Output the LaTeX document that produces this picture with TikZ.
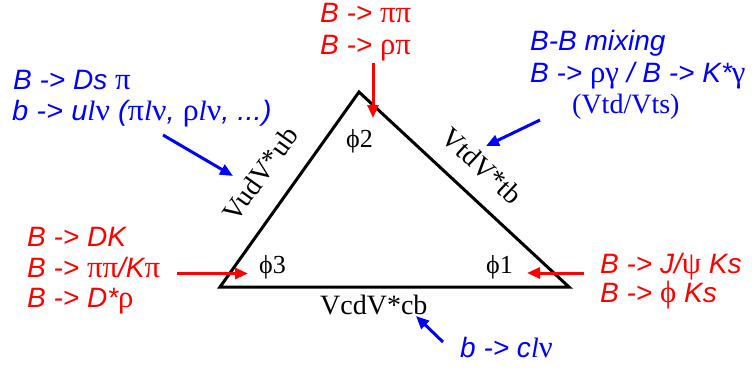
\documentclass[tikz,border=0pt]{standalone}
\usepackage{fontspec}
\usepackage{graphicx}
\setmainfont{Liberation Serif}
\newfontfamily\sansf{Liberation Sans}
\newfontfamily\grf{Liberation Serif}
\usetikzlibrary{arrows.meta}
\definecolor{myred}{RGB}{255,0,0}
\definecolor{myblue}{RGB}{0,0,255}
\newcommand{\gk}[1]{\scalebox{1.1}{\grf\upshape #1}}
\newcommand{\il}{{\rmfamily\itshape l}}
\newcommand{\wtxt}[1]{{\sansf\itshape #1}}
\tikzset{
  lbl/.style={anchor=base west, inner sep=0pt, font=\fontsize{28}{32}\selectfont},
  redt/.style={lbl, text=myred},
  bluet/.style={lbl, text=myblue},
  serift/.style={inner sep=0pt, font=\fontsize{28}{32}\selectfont},
  phit/.style={anchor=base west, inner sep=0pt, font=\fontsize{26}{30}\selectfont},
  tri/.style={line width=3pt, draw=black, line join=miter},
  rarr/.style={draw=myred, line width=3pt, -{Triangle[length=13pt,width=11pt]}},
  barr/.style={draw=myblue, line width=3pt, -{Triangle[length=13pt,width=11pt]}},
}
\begin{document}
\begin{tikzpicture}[x=1pt,y=-1pt]
\useasboundingbox (0,0) rectangle (756,370);
% triangle
\coordinate (T) at (359,92);
\coordinate (L) at (220,287);
\coordinate (R) at (569,287);
\draw[tri] (L) -- (T) -- (R) -- cycle;
% side labels
\node[serift, rotate=54.5] (sideL) at (260,174) {VudV*ub};
\node[serift, rotate=-42.9] (sideR) at (482,166) {VtdV*tb};
\node[serift, anchor=base west] (sideB) at (320,314) {VcdV*cb};
% angles
\node[phit] (phi2) at (346,147) {ϕ2};
\node[phit] (phi3) at (259,273) {ϕ3};
\node[phit] (phi1) at (486,273) {ϕ1};
% top red
\node[redt] (t1) at (320,22) {\wtxt{B -> \gk{ππ}}};
\node[redt] (t2) at (320,54) {\wtxt{B -> \gk{ρπ}}};
% top-left blue
\node[bluet] (tl1) at (13,89) {\wtxt{B -> Ds \gk{π}}};
\node[bluet] (tl2) at (12,120) {\scalebox{1.04}[1]{\wtxt{b -> u\il\gk{ν} (\gk{π}\il\gk{ν}, \gk{ρ}\il\gk{ν}, ...)}}};
% right blue
\node[bluet] (tr1) at (530,50) {\wtxt{B-B mixing}};
\node[bluet] (tr2) at (530,82) {\wtxt{B -> \gk{ργ} / B -> K*\gk{γ}}};
\node[serift, text=myblue, anchor=base west] (tr3) at (572,113) {(Vtd/Vts)};
% left red
\node[redt] (l1) at (27,246) {\wtxt{B -> DK}};
\node[redt] (l2) at (27,277) {\wtxt{B -> \gk{ππ}/K\gk{π}}};
\node[redt] (l3) at (27,307.5) {\wtxt{B -> D*\gk{ρ}}};
% right red
\node[redt] (r1) at (600,273) {\wtxt{B -> J/\gk{ψ} Ks}};
\node[redt] (r2) at (600,302) {\wtxt{B -> \gk{ϕ} Ks}};
% bottom blue
\node[bluet] (b1) at (460,357) {\wtxt{b -> c\il\gk{ν}}};
% arrows
\coordinate (a1s) at (373,63);  \coordinate (a1e) at (373,118);
\coordinate (a2s) at (177,273.5); \coordinate (a2e) at (248,273.5);
\coordinate (a3s) at (584,273); \coordinate (a3e) at (527,273);
\coordinate (b1s) at (163,135); \coordinate (b1e) at (233,176);
\coordinate (b2s) at (540,120); \coordinate (b2e) at (486,146);
\coordinate (b3s) at (443,342); \coordinate (b3e) at (416,316);
\draw[rarr] (a1s) -- (a1e);
\draw[rarr] (a2s) -- (a2e);
\draw[rarr] (a3s) -- (a3e);
\draw[barr] (b1s) -- (b1e);
\draw[barr] (b2s) -- (b2e);
\draw[barr] (b3s) -- (b3e);
\end{tikzpicture}
\end{document}
